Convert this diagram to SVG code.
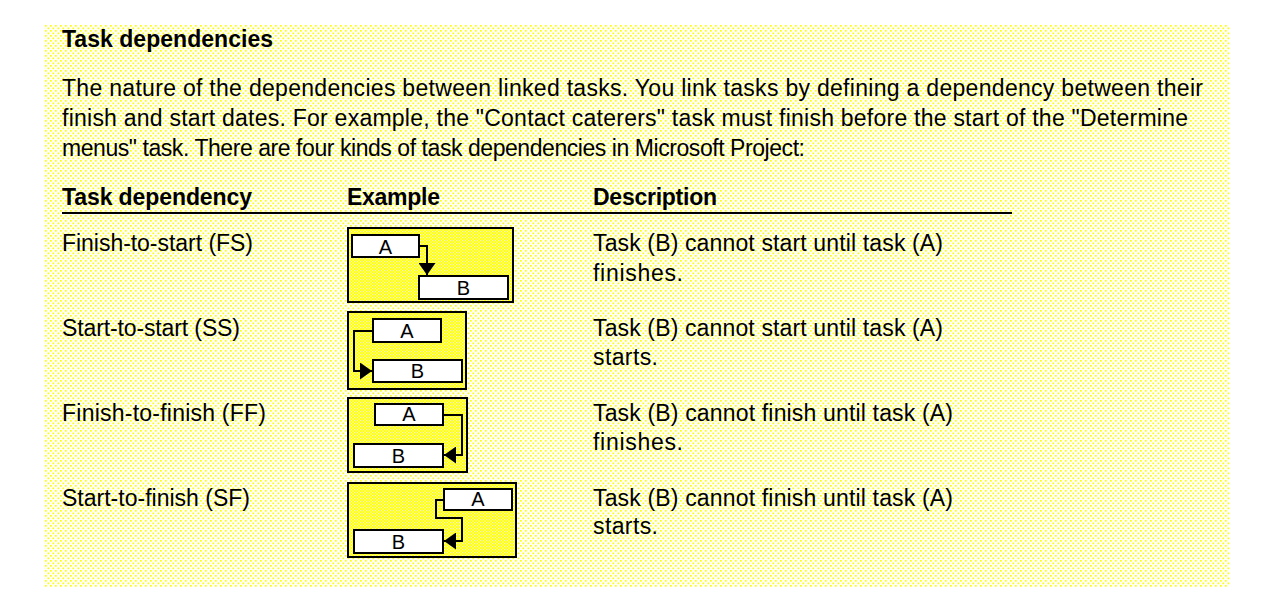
<svg xmlns="http://www.w3.org/2000/svg" width="1265" height="615" viewBox="0 0 1265 615">
<style>
  text { font-family: "Liberation Sans", Arial, sans-serif; fill: #000; }
  .t { font-size: 23px; }
  .b { font-size: 23px; font-weight: bold; }
  .lbl { font-size: 20px; text-anchor: middle; }
  .frame { fill: url(#dense); stroke: #000; stroke-width: 2; }
  .bar { fill: #fff; stroke: #000; stroke-width: 2; }
  .link { fill: none; stroke: #000; stroke-width: 2; marker-end: url(#arr); }
</style>
<defs>
  <pattern id="dots" width="5" height="5" patternUnits="userSpaceOnUse">
    <rect width="5" height="5" fill="#fff"/>
    <rect x="0" y="0" width="1.7" height="1.7" fill="#ffff00"/>
    <rect x="2.5" y="2.5" width="1.7" height="1.7" fill="#ffff00"/>
  </pattern>
  <pattern id="dense" width="3" height="3" patternUnits="userSpaceOnUse">
    <rect width="3" height="3" fill="#ffff00"/>
    <rect x="0" y="0" width="1.1" height="1.1" fill="#fff"/>
    <rect x="1.5" y="1.5" width="1.1" height="1.1" fill="#fff"/>
  </pattern>
  <marker id="arr" markerUnits="userSpaceOnUse" markerWidth="13" markerHeight="17" refX="12" refY="8.5" orient="auto">
    <path d="M0,0 L12,8.5 L0,17 Z" fill="#000"/>
  </marker>
</defs>
<rect width="1265" height="615" fill="#fff"/>
<rect x="44" y="25" width="1186" height="562" fill="url(#dots)"/>

<g id="intro">
  <text class="b" x="62" y="47" textLength="211">Task dependencies</text>
  <text class="t" x="62" y="96" textLength="1141">The nature of the dependencies between linked tasks. You link tasks by defining a dependency between their</text>
  <text class="t" x="62" y="126" textLength="1126">finish and start dates. For example, the "Contact caterers" task must finish before the start of the "Determine</text>
  <text class="t" x="62" y="156" textLength="743">menus" task. There are four kinds of task dependencies in Microsoft Project:</text>
</g>

<g id="table-header">
  <text class="b" x="62" y="205" textLength="190">Task dependency</text>
  <text class="b" x="347" y="205" textLength="93">Example</text>
  <text class="b" x="593" y="205" textLength="124">Description</text>
  <line x1="62" y1="213" x2="1012" y2="213" stroke="#000" stroke-width="2"/>
</g>

<g id="row-fs">
  <text class="t" x="62" y="251" textLength="191">Finish-to-start (FS)</text>
  <text class="t" x="593" y="251" textLength="350">Task (B) cannot start until task (A)</text>
  <text class="t" x="593" y="281" textLength="90">finishes.</text>
</g>
<g id="row-ss">
  <text class="t" x="62" y="336" textLength="178">Start-to-start (SS)</text>
  <text class="t" x="593" y="336" textLength="350">Task (B) cannot start until task (A)</text>
  <text class="t" x="593" y="365" textLength="65">starts.</text>
</g>
<g id="row-ff">
  <text class="t" x="62" y="421" textLength="204">Finish-to-finish (FF)</text>
  <text class="t" x="593" y="421" textLength="360">Task (B) cannot finish until task (A)</text>
  <text class="t" x="593" y="450" textLength="90">finishes.</text>
</g>
<g id="row-sf">
  <text class="t" x="62" y="506" textLength="188">Start-to-finish (SF)</text>
  <text class="t" x="593" y="506" textLength="360">Task (B) cannot finish until task (A)</text>
  <text class="t" x="593" y="534" textLength="65">starts.</text>
</g>

<g id="example-fs">
  <rect class="frame" x="348" y="228" width="165" height="74"/>
  <g id="fs-a"><rect class="bar" x="352" y="235" width="67" height="22"/><text class="lbl" x="385.5" y="254">A</text></g>
  <g id="fs-b"><rect class="bar" x="419" y="276" width="89" height="23"/><text class="lbl" x="463.5" y="295">B</text></g>
</g>
<g id="example-ss">
  <rect class="frame" x="348" y="312" width="118" height="77"/>
  <g id="ss-a"><rect class="bar" x="373" y="319" width="68" height="23"/><text class="lbl" x="407" y="338">A</text></g>
  <g id="ss-b"><rect class="bar" x="373" y="360" width="89" height="22"/><text class="lbl" x="417.5" y="378">B</text></g>
</g>
<g id="example-ff">
  <rect class="frame" x="348" y="398" width="119" height="74"/>
  <g id="ff-a"><rect class="bar" x="375" y="404" width="68" height="21"/><text class="lbl" x="409" y="421">A</text></g>
  <g id="ff-b"><rect class="bar" x="354" y="444" width="89" height="23"/><text class="lbl" x="398.5" y="463">B</text></g>
</g>
<g id="example-sf">
  <rect class="frame" x="348" y="483" width="168" height="74"/>
  <g id="sf-a"><rect class="bar" x="444" y="489" width="68" height="21"/><text class="lbl" x="478" y="506">A</text></g>
  <g id="sf-b"><rect class="bar" x="354" y="530" width="89" height="23"/><text class="lbl" x="398.5" y="549">B</text></g>
</g>

<g id="connectors">
  <path class="link" d="M419,246 H427 V275"/>
  <path class="link" d="M373,331 H354 V371 H372"/>
  <path class="link" d="M443,415 H462 V455 H444"/>
  <path class="link" d="M444,500 H436 V518 H462 V541 H444"/>
</g>
</svg>
